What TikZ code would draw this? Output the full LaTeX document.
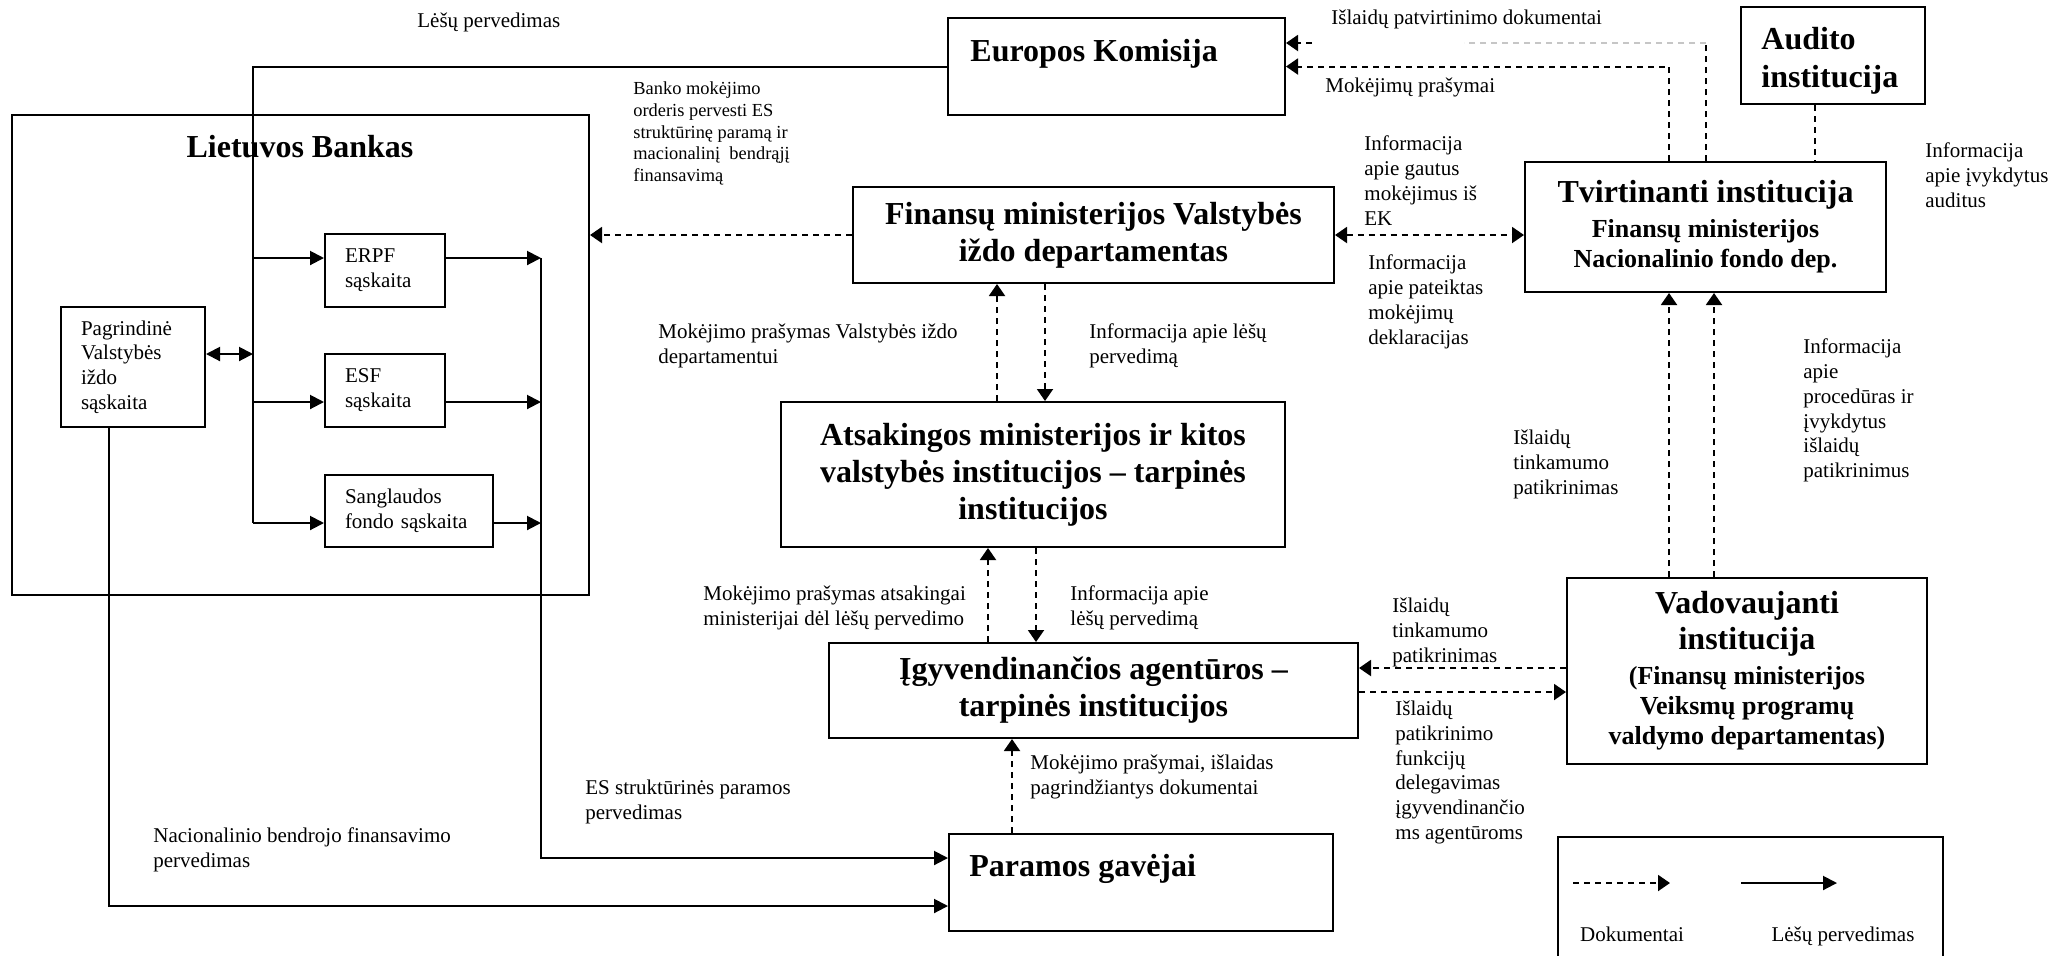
\documentclass[tikz,border=0pt]{standalone}
\usepackage{fontspec}
\setmainfont{Liberation Serif}
\usetikzlibrary{arrows.meta}
\newcommand\fbig{\fontsize{16}{18.6}\selectfont\bfseries}
\newcommand\fmed{\fontsize{13}{15}\selectfont\bfseries}
\newcommand\fsmall{\fontsize{10.5}{12.4}\selectfont}
\newcommand\ftiny{\fontsize{9.2}{10.9}\selectfont}
\begin{document}
\begin{tikzpicture}[x=0.5pt,y=-0.5pt,
  box/.style={draw,line width=1pt,inner sep=0pt},
  fund/.style={line width=1pt},
  fundarrow/.style={fund,-{Triangle[length=7pt,width=7pt]}},
  fundboth/.style={fund,{Triangle[length=7pt,width=7pt]}-{Triangle[length=7pt,width=7pt]}},
  doc/.style={line width=1pt,dash pattern=on 3pt off 2.5pt},
  docarrow/.style={doc,-{Triangle[length=6pt,width=8pt]}},
  docboth/.style={doc,{Triangle[length=6pt,width=8pt]}-{Triangle[length=6pt,width=8pt]}},
  lbl/.style={anchor=north west,inner sep=0pt,align=left,font=\fsmall},
  acc/.style={box,font=\fsmall,align=left}]
\useasboundingbox (0,0) rectangle (2056,955);
% ---------- boxes ----------
\node[box,minimum width=168.5pt,minimum height=48.5pt] (ek) at (1116.5,66.5) {};
\node[anchor=base west,inner sep=0pt,font=\fbig] (ektxt) at (970,61) {Europos Komisija};
\node[box,minimum width=92pt,minimum height=48.5pt] (au) at (1833,55.5) {};
\node[anchor=north west,inner sep=0pt,align=left,font=\fbig] (autxt) at (1761,26.6) {Audito\\[0.4pt]institucija};
\node[box,minimum width=180.5pt,minimum height=65pt,align=center,font=\fmed] (tv) at (1705.5,227) {{\fbig Tvirtinanti institucija}\\[2.5pt]Finansų ministerijos\\Nacionalinio fondo dep.};
\node[box,minimum width=240.5pt,minimum height=48pt,align=center,font=\fbig] (fm) at (1093.5,235) {Finansų ministerijos Valstybės\\iždo departamentas};
\node[box,minimum width=252pt,minimum height=72.5pt,align=center,font=\fbig] (am) at (1033,474.5) {Atsakingos ministerijos ir kitos\\valstybės institucijos – tarpinės\\institucijos};
\node[box,minimum width=264.5pt,minimum height=47.5pt,align=center,font=\fbig] (ia) at (1093.5,690.5) {Įgyvendinančios agentūros –\\tarpinės institucijos};
\node[box,minimum width=192pt,minimum height=48.5pt] (pg) at (1141,882.5) {};
\node[anchor=base west,inner sep=0pt,font=\fbig] (pgtxt) at (969,876) {Paramos gavėjai};
\node[box,minimum width=180pt,minimum height=93pt,align=center,font=\fmed] (vi) at (1747,671) {{\fbig Vadovaujanti}\\[3pt]{\fbig institucija}\\[2.5pt](Finansų ministerijos\\Veiksmų programų\\valdymo departamentas)};
% ---------- Lietuvos Bankas ----------
\node[box,minimum width=288.5pt,minimum height=240pt] (lb) at (300.5,355) {};
\node[anchor=base,inner sep=0pt,font=\fbig] (lbtxt) at (300,157) {Lietuvos Bankas};
\node[acc,minimum width=72pt,minimum height=60pt,text width=52pt] (pag) at (133,367) {Pagrindinė\\Valstybės\\iždo\\sąskaita};
\node[acc,minimum width=60pt,minimum height=36.5pt,text width=40pt] (erpf) at (385,270.5) {ERPF\\sąskaita};
\node[acc,minimum width=60pt,minimum height=36.5pt,text width=40pt] (esf) at (385,390.5) {ESF\\sąskaita};
\node[acc,minimum width=84pt,minimum height=36pt,text width=64pt] (sf) at (409,511) {Sanglaudos\\fondo sąskaita};
% ---------- fund transfers ----------
\coordinate (trtop) at (ek.west -| 253,0);
\coordinate (trbot) at (253,523);
\coordinate (j1) at (253,258);
\coordinate (j2) at (253,402);
\coordinate (j3) at (253,523);
\coordinate (jp) at (253,354);
\coordinate (c1) at (541,258);
\coordinate (c2) at (541,402);
\coordinate (c3) at (541,523);
\draw[fund] (ek.west) -- (trtop) -- (trbot);
\draw[fundarrow] (j1) -- (erpf.west |- j1);
\draw[fundarrow] (j2) -- (esf.west |- j2);
\draw[fundarrow] (j3) -- (sf.west |- j3);
\draw[fundboth] (pag.east |- jp) -- (jp);
\draw[fundarrow] (erpf.east |- c1) -- (c1);
\draw[fundarrow] (esf.east |- c2) -- (c2);
\draw[fundarrow] (sf.east |- c3) -- (c3);
\draw[fundarrow] (c1) |- (pg.west |- 0,858);
\draw[fundarrow] (109,0 |- pag.south) |- (pg.west |- 0,906);
% ---------- documents ----------
\coordinate (d2c) at (1706,43);
\coordinate (d2a) at (1464,43);
\coordinate (d2b) at (1312,43);
\draw[docarrow] (fm.west) -- (fm.west -| lb.east);
\draw[doc] (tv.north -| d2c) -- (d2c);
\draw[doc,gray!45] (d2c) -- (d2a);
\draw[docarrow] (d2b) -- (ek.east |- d2c);
\draw[docarrow] (tv.north -| 1669,0) |- (ek.east);
\draw[doc] (au.south -| 1815,0) -- (tv.north -| 1815,0);
\draw[docboth] (fm.east) -- (fm.east -| tv.west);
\draw[docarrow] (am.north -| 997,0) -- (fm.south -| 997,0);
\draw[docarrow] (fm.south -| 1045,0) -- (am.north -| 1045,0);
\draw[docarrow] (ia.north -| 988,0) -- (am.south -| 988,0);
\draw[docarrow] (am.south -| 1036,0) -- (ia.north -| 1036,0);
\draw[docarrow] (pg.north -| 1012,0) -- (ia.south -| 1012,0);
\draw[docarrow] (vi.west |- 0,668) -- (ia.east |- 0,668);
\draw[docarrow] (ia.east |- 0,692) -- (vi.west |- 0,692);
\draw[docarrow] (vi.north -| 1669,0) -- (tv.south -| 1669,0);
\draw[docarrow] (vi.north -| 1714,0) -- (tv.south -| 1714,0);
% ---------- labels ----------
\node[lbl] (l1) at (417,12.5) {Lėšų pervedimas};
\node[lbl,font=\ftiny] (l0) at (633,81.4) {Banko mokėjimo\\orderis pervesti ES\\struktūrinę paramą ir\\macionalinį\ \ bendrąjį\\finansavimą};
\node[lbl] (l2) at (1331,9.5) {Išlaidų patvirtinimo dokumentai};
\node[lbl] (l3) at (1325,77.5) {Mokėjimų prašymai};
\node[lbl] (l4) at (1364,135.5) {Informacija\\apie gautus\\mokėjimus iš\\EK};
\node[lbl] (l5) at (1368,254.5) {Informacija\\apie pateiktas\\mokėjimų\\deklaracijas};
\node[lbl] (l6) at (1925,142.5) {Informacija\\apie įvykdytus\\auditus};
\node[lbl] (l7) at (658,323.5) {Mokėjimo prašymas Valstybės iždo\\departamentui};
\node[lbl] (l8) at (1089,323.5) {Informacija apie lėšų\\pervedimą};
\node[lbl] (l9) at (1513,429.5) {Išlaidų\\tinkamumo\\patikrinimas};
\node[lbl] (l10) at (1803,338.5) {Informacija\\apie\\procedūras ir\\įvykdytus\\išlaidų\\patikrinimus};
\node[lbl] (l11) at (703,585.5) {Mokėjimo prašymas atsakingai\\ministerijai dėl lėšų pervedimo};
\node[lbl] (l12) at (1070,585.5) {Informacija apie\\lėšų pervedimą};
\node[lbl] (l13) at (1392,597.5) {Išlaidų\\tinkamumo\\patikrinimas};
\node[lbl] (l14) at (1395,700.5) {Išlaidų\\patikrinimo\\funkcijų\\delegavimas\\įgyvendinančio\\ms agentūroms};
\node[lbl] (l15) at (1030,754.5) {Mokėjimo prašymai, išlaidas\\pagrindžiantys dokumentai};
\node[lbl] (l16) at (585,779.5) {ES struktūrinės paramos\\pervedimas};
\node[lbl] (l17) at (153,827.5) {Nacionalinio bendrojo finansavimo\\pervedimas};
% ---------- legend ----------
\node[box,minimum width=192.5pt,minimum height=76.5pt] (leg) at (1750.5,913.5) {};
\coordinate (la1) at (1573,883);
\coordinate (la2) at (1670,883);
\coordinate (lf1) at (1741,883);
\coordinate (lf2) at (1837,883);
\draw[docarrow] (la1) -- (la2);
\draw[fundarrow] (lf1) -- (lf2);
\node[anchor=base,inner sep=0pt,font=\fsmall] (legd) at (1632,941) {Dokumentai};
\node[anchor=base,inner sep=0pt,font=\fsmall] (legf) at (1843,941) {Lėšų pervedimas};
\end{tikzpicture}
\end{document}
